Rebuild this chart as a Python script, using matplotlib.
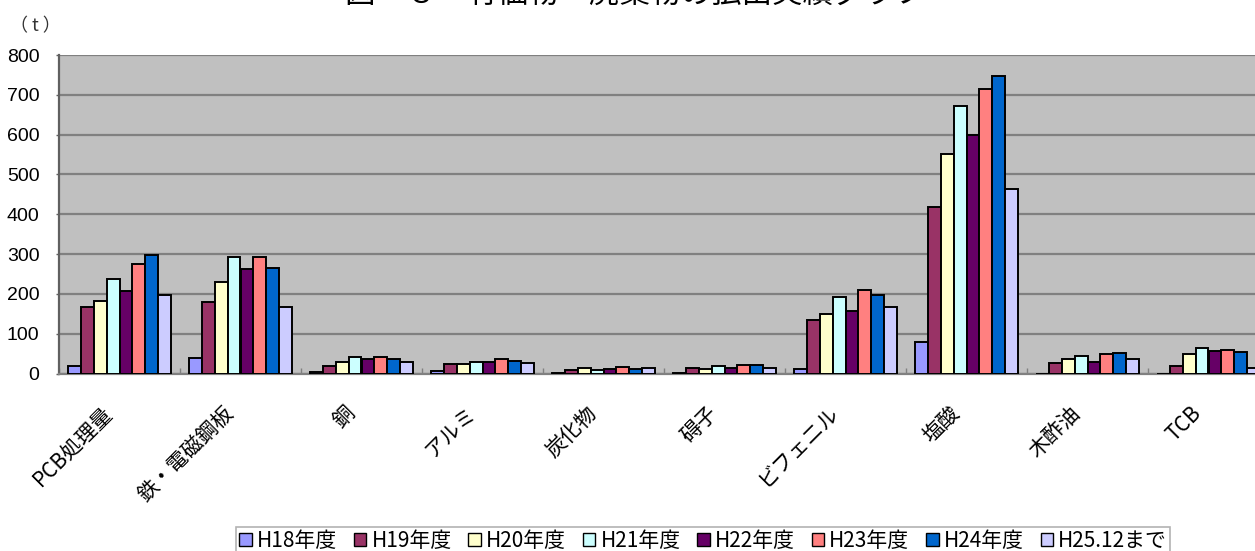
import matplotlib
matplotlib.use("Agg")
import matplotlib.pyplot as plt
import matplotlib.transforms as mtransforms
from matplotlib.patches import Patch
import numpy as np

plt.rcParams['font.family'] = ['Noto Sans CJK JP', 'DejaVu Sans']

# --- data -------------------------------------------------------------
categories = ["PCB処理量", "鉄・電磁鋼板", "銅", "アルミ", "炭化物",
              "碍子", "ビフェニル", "塩酸", "木酢油", "TCB"]

series_names = ["H18年度", "H19年度", "H20年度", "H21年度",
                "H22年度", "H23年度", "H24年度", "H25.12まで"]

h18 = [20, 38, 4, 6, 2, 2, 12, 80, 0, 0]
h19 = [167, 179, 18, 25, 8, 13, 134, 419, 27, 19]
h20 = [181, 231, 30, 23, 13, 12, 149, 551, 36, 48]
h21 = [237, 292, 41, 30, 10, 19, 191, 672, 43, 65]
h22 = [206, 262, 37, 30, 12, 15, 158, 600, 30, 57]
h23 = [274, 293, 41, 37, 17, 22, 209, 715, 50, 58]
h24 = [297, 264, 37, 32, 12, 22, 198, 748, 52, 53]
h25 = [196, 166, 28, 26, 13, 13, 168, 463, 36, 15]

series_values = [h18, h19, h20, h21, h22, h23, h24, h25]

series_colors = ["#9999FF", "#993366", "#FFFFCC", "#CCFFFF",
                 "#660066", "#FF8080", "#0066CC", "#CCCCFF"]

yticks = [0, 100, 200, 300, 400, 500, 600, 700, 800]

title_text = "図－８　有価物・廃棄物の払出実績グラフ"
unit_text = "（ t ）"

# --- figure -----------------------------------------------------------
W, H = 1255, 551
fig = plt.figure(figsize=(W / 100, H / 100), dpi=100)
fig.patch.set_facecolor("white")

left_px, top_px, bottom_px, width_px = 59, 55, 373.5, 1210
ax = fig.add_axes([left_px / W, 1 - bottom_px / H,
                   width_px / W, (bottom_px - top_px) / H])
ax.set_facecolor("#C0C0C0")

n_series = len(series_values)
bar_w = 0.106
x = np.arange(len(categories))
for i, (vals, col, name) in enumerate(zip(series_values, series_colors, series_names)):
    offs = (i - (n_series - 1) / 2) * bar_w
    ax.bar(x + offs, vals, width=bar_w, color=col, edgecolor="black",
           linewidth=1.4, label=name, zorder=3)

ax.set_xlim(-0.5, len(categories) - 0.5)
ax.set_ylim(0, 800)

# y axis
ax.set_yticks(yticks)
ax.set_yticklabels([str(v) for v in yticks], family="Liberation Sans",
                   fontsize=14)
ax.tick_params(axis="y", length=2, width=1, color="#606060", pad=12)
ax.yaxis.grid(True, color="#808080", linewidth=1.6, zorder=0)
ax.set_axisbelow(True)

# x axis: category labels at group centres, tick marks at group borders
ax.set_xticks(x)
ax.set_xticklabels(categories, fontsize=15, rotation=45, ha="right",
                   va="center", rotation_mode="anchor")
ax.tick_params(axis="x", length=0, pad=26)
shift = mtransforms.ScaledTranslation(-10 / 100, 0, fig.dpi_scale_trans)
for lab in ax.get_xticklabels():
    lab.set_transform(lab.get_transform() + shift)
ax.set_xticks(np.arange(len(categories) + 1) - 0.5, minor=True)
ax.tick_params(axis="x", which="minor", length=4, direction="in",
               color="#808080", width=1)

for side in ("top", "right"):
    ax.spines[side].set_visible(False)
ax.spines["left"].set_color("#606060")
ax.spines["left"].set_linewidth(1.6)
ax.spines["bottom"].set_color("#808080")
ax.spines["bottom"].set_linewidth(1.6)

# unit label and title
fig.text(10 / W, 1 - 31 / H, unit_text, fontsize=13, ha="left",
         va="baseline", color="#333333")
fig.text(635 / W, 1 - 3 / H, title_text, fontsize=22, ha="center",
         va="baseline")

# legend
handles = [Patch(facecolor=c, edgecolor="black", linewidth=1.0)
           for c in series_colors]
leg = fig.legend(handles, series_names, loc="upper left",
                 bbox_to_anchor=(236 / W, 1 - 527 / H), ncol=8,
                 fontsize=15, frameon=True, fancybox=False,
                 edgecolor="#A0A0A0", handlelength=0.6, handleheight=0.6,
                 handletextpad=0.25, columnspacing=0.8, borderpad=0.15,
                 borderaxespad=0)
leg.get_frame().set_linewidth(1.2)

fig.savefig("out.png", dpi=100, facecolor="white")
